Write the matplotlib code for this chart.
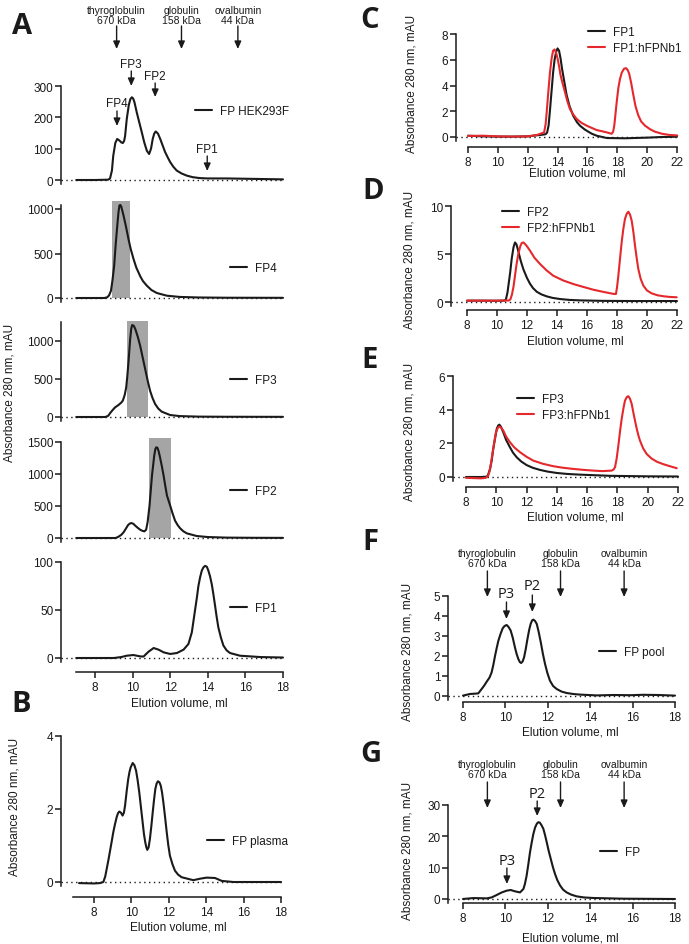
import matplotlib
matplotlib.use("Agg")
import matplotlib.pyplot as plt
from matplotlib.patches import Rectangle
from matplotlib.transforms import blended_transform_factory

# ---------------- data (ml, mAU) ----------------
hek_ml = [7.0, 8.0, 8.7, 8.8, 8.9, 8.97, 9.08, 9.18, 9.3, 9.4, 9.48, 9.55, 9.6, 9.69, 9.8, 9.88, 9.96,
          10.03, 10.1, 10.22, 10.35, 10.49, 10.62, 10.76, 10.88, 10.98, 11.07, 11.15, 11.23, 11.35,
          11.47, 11.6, 11.73, 11.87, 12.0, 12.17, 12.35, 12.6, 12.88, 13.2, 13.59, 14.0, 15.0, 16.0,
          17.0, 18.0]
hek_mau = [0, 0, 1, 5, 30, 77, 118, 131, 126, 120, 118, 125, 140, 195, 240, 258, 264,
           260, 248, 216, 185, 152, 120, 93, 83, 100, 131, 148, 155, 148,
           131, 110, 89, 72, 57, 42, 30, 21, 14, 9, 6, 5, 5, 4,
           3, 2]

fp4_ml = [7.0, 8.5, 8.65, 8.75, 8.85, 8.93, 9.02, 9.1, 9.2, 9.25, 9.3, 9.35, 9.4, 9.52, 9.65, 9.78,
          9.9, 10.05, 10.2, 10.4, 10.55, 10.76, 11.0, 11.29, 11.82, 12.5, 13.5, 15.0, 18.0]
fp4_mau = [0, 0, 8, 30, 82, 200, 363, 600, 850, 965, 1040, 1045, 1025, 925, 800, 663,
           550, 438, 340, 247, 190, 138, 90, 56, 26, 12, 6, 3, 2]

fp3_ml = [7.0, 8.55, 8.7, 8.81, 8.95, 9.07, 9.25, 9.4, 9.48, 9.58, 9.66, 9.72, 9.78, 9.87, 9.93, 9.98,
          10.06, 10.14, 10.27, 10.4, 10.53, 10.67, 10.8, 10.93, 11.06, 11.2, 11.37, 11.55, 12.0,
          12.5, 13.5, 15.0, 18.0]
fp3_mau = [0, 0, 15, 53, 95, 127, 158, 190, 215, 290, 390, 540, 720, 1025, 1165, 1210,
           1200, 1160, 1060, 940, 790, 630, 480, 345, 250, 170, 110, 70, 26,
           12, 5, 3, 2]

fp2_ml = [7.0, 9.1, 9.25, 9.4, 9.52, 9.65, 9.76, 9.85, 9.93, 10.04, 10.14, 10.27, 10.4, 10.52, 10.63,
          10.72, 10.8, 10.9, 11.03, 11.15, 11.21, 11.26, 11.32, 11.38, 11.44, 11.55, 11.65, 11.74,
          11.83, 12.0, 12.13, 12.26, 12.4, 12.53, 12.7, 12.88, 13.41, 14.0, 15.0, 16.5, 18.0]
fp2_mau = [0, 0, 20, 50, 89, 150, 203, 225, 234, 222, 193, 160, 130, 112, 104,
           130, 250, 505, 973, 1286, 1390, 1417, 1410, 1360, 1286, 1130, 973, 810,
           661, 505, 380, 270, 200, 151, 105, 73, 31, 15, 6, 3, 2]

fp1_ml = [7.0, 9.0, 9.4, 9.69, 10.04, 10.4, 10.58, 10.85, 11.12, 11.38, 11.65, 12.0, 12.36, 12.71,
          12.97, 13.15, 13.33, 13.42, 13.5, 13.59, 13.68, 13.77, 13.86, 13.95, 14.03, 14.12, 14.21,
          14.3, 14.39, 14.47, 14.56, 14.7, 14.83, 15.0, 15.18, 15.71, 16.78, 18.0]
fp1_mau = [0, 0, 1, 2.4, 3.1, 1.7, 1.5, 6.6, 10.4, 8.7, 5.9, 4.2, 5.2, 8.7,
           14.6, 26.7, 51, 63, 75, 84, 91, 94.5, 96, 95, 91, 85, 77,
           66, 54, 43, 32, 21, 13, 8, 5.2, 2.4, 1, 0.5]

plasma_ml = [7.2, 8.0, 8.32, 8.5, 8.6, 8.68, 8.77, 8.86, 8.95, 9.03, 9.12, 9.21, 9.28, 9.35, 9.44,
             9.53, 9.6, 9.66, 9.75, 9.83, 9.9, 9.96, 10.07, 10.16, 10.25, 10.33, 10.42, 10.51, 10.6,
             10.67, 10.74, 10.8, 10.85, 10.92, 10.99, 11.07, 11.14, 11.21, 11.28, 11.35, 11.42, 11.5,
             11.57, 11.64, 11.71, 11.8, 11.89, 11.97, 12.06, 12.2, 12.33, 12.5, 12.69, 13.31, 13.67,
             14.02, 14.47, 14.83, 15.45, 16.5, 18.0]
plasma_mau = [-0.03, -0.04, -0.03, 0.0, 0.15, 0.36, 0.6, 0.86, 1.12, 1.36, 1.58, 1.77, 1.88, 1.93, 1.9,
              1.82, 1.9, 2.09, 2.5, 2.82, 3.02, 3.14, 3.26, 3.2, 3.05, 2.8, 2.46, 2.05, 1.64,
              1.32, 1.09, 0.95, 0.88, 0.95, 1.18, 1.55, 1.91, 2.25, 2.55, 2.7, 2.76, 2.73,
              2.64, 2.45, 2.18, 1.78, 1.36, 1.02, 0.72, 0.48, 0.31, 0.2, 0.13, 0.05, 0.09,
              0.12, 0.11, 0.03, 0.0, 0.0, 0.0]

c_fp1_ml = [8.0, 9.0, 10.0, 11.0, 12.0, 12.5, 13.0, 13.2, 13.3, 13.4, 13.5, 13.6, 13.7, 13.8, 13.9,
            14.0, 14.1, 14.2, 14.3, 14.45, 14.6, 14.8, 15.05, 15.3, 15.5, 15.8, 16.06, 16.3, 16.62,
            17.0, 17.3, 18.5, 20.0, 21.0, 22.0]
c_fp1_mau = [0.1, 0.05, 0.03, 0.03, 0.05, 0.12, 0.18, 0.22, 0.35, 0.9, 2.2, 3.6, 5.0, 6.0, 6.6,
             6.88, 6.7, 6.1, 5.3, 4.3, 3.3, 2.4, 1.65, 1.15, 0.88, 0.6, 0.41, 0.25, 0.1,
             0.0, -0.08, -0.1, -0.05, 0.0, 0.02]
c_nb_ml = [8.0, 9.0, 10.0, 11.0, 12.0, 12.6, 13.1, 13.2, 13.27, 13.38, 13.49, 13.6, 13.7, 13.8, 13.9,
           14.0, 14.1, 14.2, 14.35, 14.5, 14.65, 14.83, 15.05, 15.28, 15.6, 15.95, 16.3, 16.62, 17.0,
           17.29, 17.62, 17.72, 17.8, 17.88, 17.96, 18.07, 18.18, 18.3, 18.45, 18.58, 18.7, 18.8,
           18.93, 19.07, 19.22, 19.4, 19.6, 19.86, 20.2, 20.53, 21.0, 21.5, 22.02]
c_nb_mau = [0.08, 0.1, 0.05, 0.03, 0.05, 0.15, 0.36, 1.0, 1.9, 3.5, 5.0, 6.1, 6.7, 6.8, 6.55,
            6.1, 5.5, 4.8, 4.1, 3.47, 2.8, 2.17, 1.75, 1.4, 1.1, 0.88, 0.7, 0.54, 0.44,
            0.36, 0.25, 0.4, 0.9, 1.8, 2.7, 3.8, 4.5, 5.0, 5.3, 5.35, 5.2, 4.9,
            4.2, 3.3, 2.4, 1.7, 1.2, 0.88, 0.6, 0.41, 0.25, 0.16, 0.12]

d_fp2_ml = [8.0, 9.0, 10.0, 10.53, 10.6, 10.7, 10.76, 10.88, 10.98, 11.1, 11.2, 11.3, 11.42, 11.58,
            11.76, 12.0, 12.2, 12.4, 12.65, 12.95, 13.31, 13.7, 14.2, 14.8, 15.53, 17.0, 19.0, 22.0]
d_fp2_mau = [0.14, 0.14, 0.13, 0.15, 0.3, 1.0, 1.7, 3.1, 4.5, 5.7, 6.2, 6.0, 5.3, 4.3,
             3.4, 2.5, 1.9, 1.45, 1.07, 0.8, 0.59, 0.43, 0.31, 0.22, 0.17, 0.12, 0.1, 0.1]
d_nb_ml = [8.0, 9.0, 10.0, 10.8, 10.9, 11.0, 11.1, 11.2, 11.3, 11.42, 11.55, 11.65, 11.76, 11.87,
           12.0, 12.2, 12.5, 12.87, 13.3, 13.75, 14.4, 15.09, 15.8, 16.42, 17.1, 17.75, 17.93, 18.0,
           18.09, 18.2, 18.31, 18.42, 18.53, 18.65, 18.76, 18.87, 18.98, 19.1, 19.2, 19.32, 19.42,
           19.58, 19.76, 20.0, 20.31, 20.7, 21.09, 21.5, 21.98]
d_nb_mau = [0.14, 0.14, 0.14, 0.16, 0.3, 0.8, 1.6, 2.74, 3.9, 5.0, 5.8, 6.15, 6.2, 6.04,
            5.8, 5.35, 4.6, 3.96, 3.3, 2.74, 2.25, 1.87, 1.55, 1.28, 1.05, 0.85, 0.83, 1.5,
            2.74, 4.5, 6.2, 7.6, 8.64, 9.2, 9.4, 9.1, 8.47, 7.2, 5.87, 4.5, 3.44,
            2.4, 1.7, 1.2, 0.9, 0.7, 0.6, 0.53, 0.49]

e_fp3_ml = [8.0, 9.0, 9.37, 9.45, 9.52, 9.59, 9.7, 9.8, 9.92, 10.03, 10.12, 10.2, 10.3, 10.46, 10.65,
            10.9, 11.1, 11.35, 11.65, 12.0, 12.4, 12.89, 13.4, 13.99, 14.7, 15.53, 17.5, 20.0, 22.0]
e_fp3_mau = [0.0, 0.0, 0.02, 0.1, 0.3, 0.48, 1.0, 1.67, 2.3, 2.86, 3.05, 3.11, 3.0, 2.66, 2.2,
             1.77, 1.45, 1.17, 0.92, 0.71, 0.55, 0.42, 0.32, 0.24, 0.18, 0.14, 0.07, 0.04, 0.03]
e_nb_ml = [8.0, 9.0, 9.3, 9.45, 9.54, 9.65, 9.76, 9.87, 9.98, 10.1, 10.2, 10.3, 10.46, 10.65, 10.9,
           11.2, 11.57, 12.0, 12.45, 13.1, 13.77, 14.4, 15.09, 15.8, 16.41, 17.0, 17.62, 17.75,
           17.84, 17.95, 18.06, 18.17, 18.28, 18.4, 18.5, 18.62, 18.72, 18.83, 18.94, 19.08, 19.23,
           19.36, 19.49, 19.7, 19.93, 20.25, 20.6, 21.0, 21.36, 21.92]
e_nb_mau = [-0.05, -0.08, -0.05, 0.05, 0.28, 0.8, 1.47, 2.1, 2.66, 2.92, 3.0, 2.95, 2.76, 2.4, 2.07,
            1.75, 1.47, 1.2, 0.97, 0.78, 0.64, 0.55, 0.48, 0.42, 0.38, 0.35, 0.38, 0.45,
            0.58, 1.1, 1.86, 2.7, 3.45, 4.1, 4.54, 4.75, 4.8, 4.65, 4.35, 3.7, 3.05,
            2.55, 2.16, 1.7, 1.37, 1.1, 0.91, 0.77, 0.67, 0.52]

pool_ml = [8.0, 8.33, 8.72, 8.88, 9.0, 9.12, 9.25, 9.35, 9.43, 9.51, 9.59, 9.67, 9.77, 9.87, 9.96,
           10.06, 10.15, 10.25, 10.35, 10.45, 10.53, 10.61, 10.68, 10.74, 10.81, 10.88, 10.96, 11.04,
           11.12, 11.19, 11.26, 11.32, 11.4, 11.48, 11.57, 11.67, 11.77, 11.87, 11.98, 12.1, 12.25,
           12.42, 12.65, 12.89, 13.2, 13.52, 14.3, 15.1, 15.9, 16.5, 17.2, 18.0]
pool_mau = [0.02, 0.1, 0.13, 0.35, 0.52, 0.72, 0.92, 1.18, 1.55, 2.0, 2.4, 2.77, 3.1, 3.38, 3.5,
            3.55, 3.45, 3.27, 2.9, 2.43, 2.1, 1.85, 1.7, 1.65, 1.72, 1.93, 2.35, 2.85,
            3.3, 3.6, 3.78, 3.82, 3.75, 3.6, 3.2, 2.68, 2.1, 1.6, 1.15, 0.77, 0.5,
            0.35, 0.22, 0.15, 0.1, 0.07, 0.03, 0.05, 0.04, 0.06, 0.05, 0.02]

fp_ml = [8.0, 8.49, 9.12, 9.35, 9.59, 9.83, 10.06, 10.25, 10.45, 10.69, 10.85, 10.92, 11.0, 11.08,
         11.16, 11.24, 11.32, 11.4, 11.48, 11.55, 11.62, 11.7, 11.79, 11.87, 11.95, 12.04, 12.14,
         12.24, 12.34, 12.45, 12.58, 12.72, 12.89, 13.1, 13.36, 13.7, 14.15, 15.56, 18.0]
fp_mau = [0.0, 0.3, 0.2, 0.5, 1.28, 2.1, 2.66, 2.87, 2.45, 2.1, 3.2, 4.8, 7.4, 11.0,
          14.9, 18.0, 20.8, 22.8, 24.0, 24.5, 24.4, 23.6, 22.4, 20.4, 18.1, 15.4, 12.8,
          10.2, 8.0, 6.0, 4.3, 3.0, 2.1, 1.4, 0.85, 0.5, 0.32, 0.1, 0.0]

# collected fractions (grey bars) for FP4, FP3, FP2
fraction_lo = [8.9, 9.71, 10.88]
fraction_hi = [9.87, 10.83, 12.05]
fraction_top = [1090, 1263, 1560]

# size standards
marker_names = ["thyroglobulin\n670 kDa", "globulin\n158 kDa", "ovalbumin\n44 kDa"]
marker_ml = [9.15, 12.6, 15.6]

# ---------------- figure ----------------
W, H = 689, 945
INK = "#1a1a1a"
RED = "#e5282c"
YLAB = "Absorbance 280 nm, mAU"
XLAB = "Elution volume, ml"

plt.rcParams["font.family"] = ["Liberation Sans", "DejaVu Sans"]
plt.rcParams["font.size"] = 8.5
plt.rcParams["text.color"] = INK
plt.rcParams["axes.edgecolor"] = INK
plt.rcParams["xtick.color"] = INK
plt.rcParams["ytick.color"] = INK
plt.rcParams["axes.linewidth"] = 1.1

fig = plt.figure(figsize=(W / 100, H / 100), dpi=100)
ARROW = dict(arrowstyle="-|>,head_length=0.45,head_width=0.2", color=INK, lw=1,
             mutation_scale=10, shrinkA=0, shrinkB=0)


def fy(py):
    return 1 - py / H


def panel(left, right, top, bottom, xmap, ymap, yticks, ytop, xticks=None, xspan=None):
    # xmap/ymap: (value_a, pixel_a, value_b, pixel_b) -> sets limits so the axes line up
    ax = fig.add_axes([left / W, 1 - bottom / H, (right - left) / W, (bottom - top) / H])
    xa, pa, xb, pb = xmap
    sx = (pb - pa) / (xb - xa)
    ax.set_xlim(xa - (pa - left) / sx, xa + (right - pa) / sx)
    ya, qa, yb, qb = ymap
    sy = (qa - qb) / (yb - ya)
    ax.set_ylim(ya - (bottom - qa) / sy, ya + (qa - top) / sy)
    for s in ("top", "right"):
        ax.spines[s].set_visible(False)
    ax.spines["left"].set_bounds(ya - 4 / sy, ytop)
    ax.set_yticks(yticks)
    ax.tick_params(axis="y", direction="out", length=4, width=1.1, pad=1.5, labelsize=8.5)
    if xticks is None:
        ax.spines["bottom"].set_visible(False)
        ax.set_xticks([])
    else:
        ax.spines["bottom"].set_bounds(*xspan)
        ax.set_xticks(xticks)
        ax.tick_params(axis="x", direction="out", length=4, width=1.1, pad=2.5, labelsize=8.5)
    ax.axhline(0, color=INK, lw=1, ls=(0, (1, 2.5)), zorder=1)
    return ax


def legend(ax, px, py):
    ax.legend(loc="center left", bbox_to_anchor=(px / W, fy(py)), bbox_transform=fig.transFigure,
              frameon=False, borderpad=0, borderaxespad=0, handlelength=1.4,
              handletextpad=0.7, labelspacing=0.35, fontsize=8.5)


def standards(ax, text_py, top_py, tip_py):
    tr = blended_transform_factory(ax.transData, fig.transFigure)
    for name, x in zip(marker_names, marker_ml):
        ax.text(x, fy(text_py), name, transform=tr, ha="center", va="center",
                fontsize=7.5, linespacing=1.1)
        ax.annotate("", xy=(x, fy(tip_py)), xytext=(x, fy(top_py)), xycoords=tr,
                    textcoords=tr, arrowprops=ARROW, annotation_clip=False)


def peak(ax, x, s, text_py, top_py, tip_py, **kw):
    tr = blended_transform_factory(ax.transData, fig.transFigure)
    ax.text(x, fy(text_py), s, transform=tr, ha="center", va="center", **kw)
    ax.annotate("", xy=(x, fy(tip_py)), xytext=(x, fy(top_py)), xycoords=tr,
                textcoords=tr, arrowprops=ARROW, annotation_clip=False)


def curve(ax, ml, mau, label, color=INK):
    ax.plot(ml, mau, color=color, lw=1.5, label=label, solid_joinstyle="round",
            solid_capstyle="round", zorder=3)


A_X = (8, 95, 18, 283)

# ==================== A ====================
a1 = panel(61, 285, 87, 185, A_X, (0, 181, 300, 87), [0, 100, 200, 300], 300)
curve(a1, hek_ml, hek_mau, "FP HEK293F")
legend(a1, 195, 112)
standards(a1, 16, 27, 50)
peak(a1, 9.17, "FP4", 104, 112, 127, fontsize=8.5)
peak(a1, 9.93, "FP3", 65, 72, 87, fontsize=8.5)
peak(a1, 11.2, "FP2", 77, 84, 98, fontsize=8.5)
peak(a1, 13.97, "FP1", 150, 157, 172, fontsize=8.5)

a2 = panel(61, 285, 205, 303, A_X, (0, 299, 1000, 210), [0, 500, 1000], 1050)
a3 = panel(61, 285, 323, 422, A_X, (0, 418, 1000, 342), [0, 500, 1000], 1250)
a4 = panel(61, 285, 443, 543, A_X, (0, 539, 1500, 443), [0, 500, 1000, 1500], 1500)
for ax, lo, hi, top in zip([a2, a3, a4], fraction_lo, fraction_hi, fraction_top):
    ax.add_patch(Rectangle((lo, 0), hi - lo, top, facecolor="#a5a5a5", edgecolor="none",
                           clip_on=False, zorder=0.5))
curve(a2, fp4_ml, fp4_mau, "FP4")
curve(a3, fp3_ml, fp3_mau, "FP3")
curve(a4, fp2_ml, fp2_mau, "FP2")
legend(a2, 230, 269)
legend(a3, 230, 381)
legend(a4, 230, 492)

a5 = panel(61, 285, 563, 673, A_X, (0, 659, 100, 563), [0, 50, 100], 100,
           xticks=[8, 10, 12, 14, 16, 18], xspan=(7, 18))
curve(a5, fp1_ml, fp1_mau, "FP1")
legend(a5, 230, 609)
fig.text(179 / W, fy(704), XLAB, ha="center", va="center", fontsize=8.5)
fig.text(10 / W, fy(393), YLAB, rotation=90, ha="center", va="center", fontsize=8.5)

# ==================== B ====================
b = panel(61, 285, 737, 898, (8, 94, 18, 281), (0, 883, 4, 737), [0, 2, 4], 4,
          xticks=[8, 10, 12, 14, 16, 18], xspan=(6.9, 18))
curve(b, plasma_ml, plasma_mau, "FP plasma")
legend(b, 207, 842)
fig.text(178 / W, fy(928), XLAB, ha="center", va="center", fontsize=8.5)
fig.text(15 / W, fy(807), YLAB, rotation=90, ha="center", va="center", fontsize=8.5)

# ==================== C, D, E ====================
CDE_TICKS = [8, 10, 12, 14, 16, 18, 20, 22]
c = panel(456, 679, 35, 148, (8, 468, 22, 677), (0, 138, 8, 35), [0, 2, 4, 6, 8], 8,
          xticks=CDE_TICKS, xspan=(8, 22))
curve(c, c_fp1_ml, c_fp1_mau, "FP1")
curve(c, c_nb_ml, c_nb_mau, "FP1:hFPNb1", RED)
legend(c, 588, 41)
fig.text(577 / W, fy(174), XLAB, ha="center", va="center", fontsize=8.5)
fig.text(412 / W, fy(84), YLAB, rotation=90, ha="center", va="center", fontsize=8.5)

d = panel(451, 679, 207, 311, (8, 467, 22, 677), (0, 303, 10, 207), [0, 5, 10], 10,
          xticks=CDE_TICKS, xspan=(8, 22))
curve(d, d_fp2_ml, d_fp2_mau, "FP2")
curve(d, d_nb_ml, d_nb_mau, "FP2:hFPNb1", RED)
legend(d, 502, 221)
fig.text(575 / W, fy(341), XLAB, ha="center", va="center", fontsize=8.5)
fig.text(410 / W, fy(260), YLAB, rotation=90, ha="center", va="center", fontsize=8.5)

e = panel(453, 680, 377, 488, (8, 466, 22, 678), (0, 478, 6, 377), [0, 2, 4, 6], 6,
          xticks=CDE_TICKS, xspan=(8, 22))
curve(e, e_fp3_ml, e_fp3_mau, "FP3")
curve(e, e_nb_ml, e_nb_mau, "FP3:hFPNb1", RED)
legend(e, 517, 408)
fig.text(575 / W, fy(517), XLAB, ha="center", va="center", fontsize=8.5)
fig.text(410 / W, fy(432), YLAB, rotation=90, ha="center", va="center", fontsize=8.5)

# ==================== F ====================
FG_TICKS = [8, 10, 12, 14, 16, 18]
f = panel(448, 677, 597, 703, (8, 463, 18, 675), (0, 697, 5, 597), [0, 1, 2, 3, 4, 5], 5,
          xticks=FG_TICKS, xspan=(8, 18))
curve(f, pool_ml, pool_mau, "FP pool")
legend(f, 599, 653)
standards(f, 559, 572, 598)
peak(f, 10.05, "P3", 594, 603, 620, fontsize=10.5, family="Open Sans")
peak(f, 11.27, "P2", 587, 596, 613, fontsize=10.5, family="Open Sans")
fig.text(570 / W, fy(733), XLAB, ha="center", va="center", fontsize=8.5)
fig.text(408 / W, fy(652), YLAB, rotation=90, ha="center", va="center", fontsize=8.5)

# ==================== G ====================
g = panel(448, 677, 806, 904, (8, 463, 18, 675), (0, 900, 30, 806), [0, 10, 20, 30], 30,
          xticks=FG_TICKS, xspan=(8, 18))
curve(g, fp_ml, fp_mau, "FP")
legend(g, 600, 853)
standards(g, 770, 783, 809)
peak(g, 10.07, "P3", 862, 869, 885, fontsize=10.5, family="Open Sans")
peak(g, 11.5, "P2", 795, 802, 817, fontsize=10.5, family="Open Sans")
fig.text(570 / W, fy(939), XLAB, ha="center", va="center", fontsize=8.5)
fig.text(408 / W, fy(851), YLAB, rotation=90, ha="center", va="center", fontsize=8.5)

# panel letters
for s, px, py in [("A", 22, 26), ("B", 21, 705), ("C", 370, 21), ("D", 373, 192),
                  ("E", 370, 361), ("F", 370, 543), ("G", 371, 755)]:
    fig.text(px / W, fy(py), s, ha="center", va="center", fontsize=21,
             fontweight="bold", family="Open Sans")

fig.savefig("out.png", dpi=100)
